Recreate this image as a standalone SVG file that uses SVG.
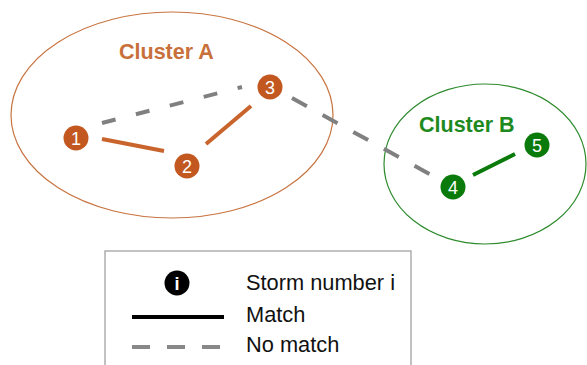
<svg xmlns="http://www.w3.org/2000/svg" width="587" height="365" viewBox="0 0 587 365">
<style>
.ca{fill:none;stroke:#C87440;stroke-width:1.2}
.cb{fill:none;stroke:#2E8B2E;stroke-width:1.2}
.lab{font-family:"Liberation Sans",Arial,sans-serif;font-weight:bold;font-size:21.5px}
.num{font-family:"Liberation Sans",Arial,sans-serif;font-size:18px;fill:#fff;text-anchor:middle}
.na{fill:#C2581F}
.nb{fill:#0A7A0A}
.ma{stroke:#C8642C;stroke-width:4;fill:none}
.mb{stroke:#0A7A0A;stroke-width:4;fill:none}
.nm{stroke:#808080;stroke-width:4;fill:none}
.leg{font-family:"Liberation Sans",Arial,sans-serif;font-size:21.8px;fill:#111}
</style>
<g id="clusterA">
<ellipse class="ca" cx="172" cy="115" rx="161" ry="103"/>
<text class="lab" x="119" y="59" fill="#C8703A">Cluster A</text>
</g>
<g id="clusterB">
<ellipse class="cb" cx="485" cy="164" rx="101" ry="80"/>
<text class="lab" x="419" y="132" fill="#1E8A1E">Cluster B</text>
</g>
<g id="connectors">
<line class="ma" x1="102" y1="139" x2="164" y2="151"/>
<line class="ma" x1="206" y1="144" x2="251" y2="106"/>
<line class="mb" x1="473" y1="175" x2="515" y2="154"/>
<line class="nm" x1="102" y1="123" x2="242" y2="87" stroke-dasharray="14 21"/>
<line class="nm" x1="292" y1="98" x2="433" y2="176" stroke-dasharray="17 18"/>
</g>
<g id="node1"><circle class="na" cx="76" cy="138" r="12.5"/><text class="num" x="76" y="144.5">1</text></g>
<g id="node2"><circle class="na" cx="187" cy="166" r="12.5"/><text class="num" x="187" y="172.5">2</text></g>
<g id="node3"><circle class="na" cx="270" cy="87" r="12.5"/><text class="num" x="270" y="93.5">3</text></g>
<g id="node4"><circle class="nb" cx="453" cy="187" r="12.5"/><text class="num" x="453" y="193.5">4</text></g>
<g id="node5"><circle class="nb" cx="537" cy="145" r="12.5"/><text class="num" x="537" y="151.5">5</text></g>
<g id="legend">
<rect x="105" y="251" width="306" height="130" fill="#fff" stroke="#999" stroke-width="1.2"/>
<circle cx="177" cy="283" r="12.5" fill="#000"/>
<text class="num" x="177" y="289.5" font-weight="bold">i</text>
<text class="leg" x="246" y="290">Storm number i</text>
<line x1="132" y1="317" x2="224" y2="317" stroke="#000" stroke-width="4"/>
<text class="leg" x="246" y="322">Match</text>
<line x1="132" y1="347" x2="224" y2="347" stroke="#888" stroke-width="4" stroke-dasharray="18 17"/>
<text class="leg" x="246" y="352">No match</text>
</g>
</svg>
